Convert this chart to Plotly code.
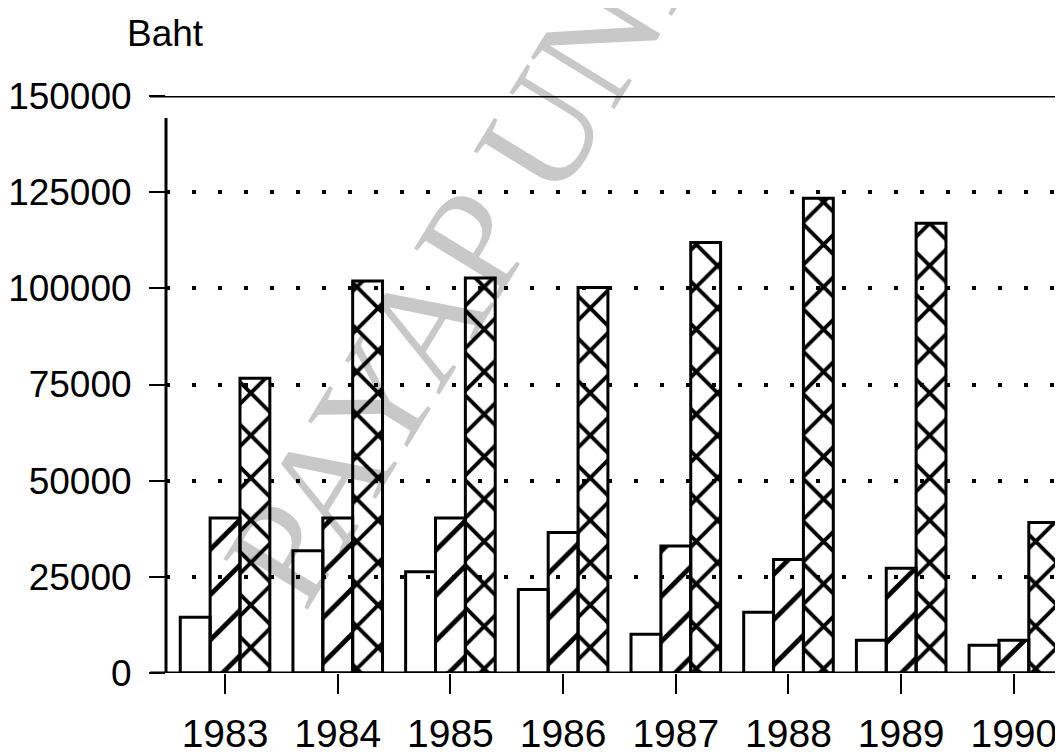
import plotly.graph_objects as go

years = ["1983", "1984", "1985", "1986", "1987", "1988", "1989", "1990"]
series_a = [14500, 31800, 26300, 21700, 10100, 15800, 8500, 7200]
series_b = [40300, 40300, 40300, 36500, 33000, 29500, 27200, 8500]
series_c = [76600, 101900, 102700, 100200, 111900, 123400, 116900, 39100]
y_ticks = [0, 25000, 50000, 75000, 100000, 125000, 150000]
y_label = "Baht"
watermark = "PAYAP UNIVERSITY"

FONT = "Liberation Sans, Arial, sans-serif"
CLEAR = "rgba(255,255,255,0)"

# the html page adds an 8px body margin, so the figure is drawn 8px in
OFF = 8
W, H = 1063 - OFF, 756 - OFF
L, R, T, B = 166 - OFF, 0, 96 - OFF, 83
PW, PH = W - L - R, H - T - B


def px(x):
    # page pixel x -> paper
    return (x - OFF - L) / PW


def py(y):
    # page pixel y -> paper
    return (H - B - (y - OFF)) / PH


fig = go.Figure()
fig.add_bar(x=years, y=series_a,
            marker=dict(color=CLEAR, line=dict(color="black", width=3)))
fig.add_bar(x=years, y=series_b,
            marker=dict(color=CLEAR, line=dict(color="black", width=3),
                        pattern=dict(shape="/", size=32, solidity=0.15,
                                     fgcolor="black", fgopacity=1,
                                     bgcolor=CLEAR)))
fig.add_bar(x=years, y=series_c,
            marker=dict(color=CLEAR, line=dict(color="black", width=3),
                        pattern=dict(shape="x", size=30, solidity=0.24,
                                     fgcolor="black", fgopacity=1,
                                     bgcolor=CLEAR)))

fig.update_layout(
    width=W, height=H,
    margin=dict(l=L, r=R, t=T, b=B, autoexpand=False),
    paper_bgcolor="white", plot_bgcolor="white",
    showlegend=False, barmode="group", bargap=0.205, bargroupgap=0,
    font=dict(family=FONT, color="black"),
)
fig.update_xaxes(type="category", range=[-0.524, 7.436], showgrid=False,
                 zeroline=False, showline=False, ticks="outside", ticklen=20,
                 tickwidth=2, tickcolor="black", tickfont=dict(size=39),
                 ticklabelstandoff=6, automargin=False)
fig.update_yaxes(range=[0, 150000], tickvals=y_ticks,
                 ticktext=[str(v) for v in y_ticks], showgrid=True,
                 gridcolor="black", gridwidth=4, griddash="4px,22px",
                 zeroline=False, showline=False, ticks="outside", ticklen=16,
                 tickwidth=2, tickcolor="black", tickfont=dict(size=37),
                 ticklabelstandoff=10, automargin=False)

# axis frame lines
fig.add_shape(type="line", xref="paper", yref="y", x0=px(150), x1=1,
              y0=150000, y1=150000, line=dict(color="black", width=3))
fig.add_shape(type="line", xref="paper", yref="y", x0=px(150), x1=1,
              y0=0, y1=0, line=dict(color="black", width=3))
fig.add_shape(type="line", xref="paper", yref="paper", x0=0, x1=0,
              y0=0, y1=py(118), line=dict(color="black", width=3))

# watermark (behind everything)
fig.add_shape(type="line", xref="paper", yref="paper",
              x0=px(235), y0=py(600), x1=px(982), y1=py(-618),
              line=dict(color="rgba(0,0,0,0)", width=0), layer="below",
              label=dict(text=watermark, textposition="middle",
                         xanchor="center", yanchor="middle",
                         font=dict(family="Liberation Serif, DejaVu Serif, serif",
                                   size=150, color="#c8c8c8")))

fig.add_annotation(text=y_label, xref="paper", yref="paper", x=px(165),
                   y=py(33), xanchor="center", yanchor="middle",
                   showarrow=False, font=dict(size=37))

fig.write_html("out.html")
